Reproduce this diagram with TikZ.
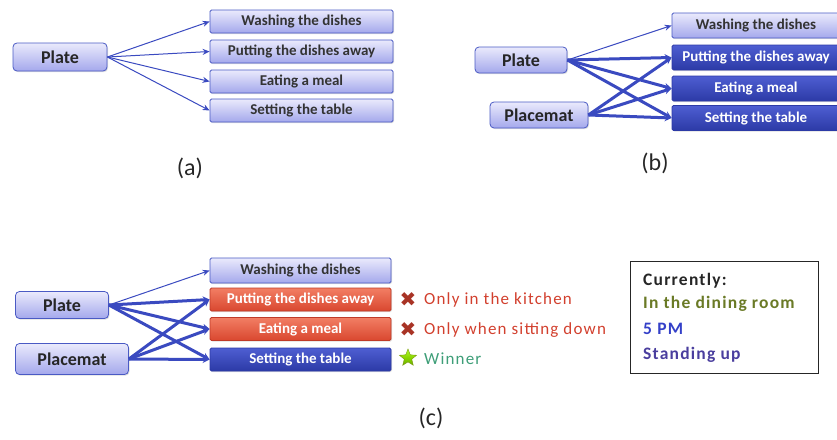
\documentclass[tikz,border=0pt]{standalone}
\usepackage{fontspec}
\setmainfont{Carlito}
\newfontfamily\symfont{DejaVu Sans}
\newfontfamily\widefont[LetterSpace=7]{Carlito}
\usetikzlibrary{arrows.meta,shapes.geometric,shadows}
\definecolor{boxedge}{HTML}{4A5AC4}
\definecolor{lighttop}{HTML}{EAEAFC}
\definecolor{lightbot}{HTML}{A4A8EC}
\definecolor{darktop}{HTML}{4E5ED2}
\definecolor{darkbot}{HTML}{2C3AA6}
\definecolor{redtop}{HTML}{F27E64}
\definecolor{redbot}{HTML}{D9472F}
\definecolor{rededge}{HTML}{BF3A28}
\definecolor{arrowc}{HTML}{3A4AC0}
\definecolor{redtext}{HTML}{D2402E}
\definecolor{wintext}{HTML}{3E9E78}
\definecolor{olivetext}{HTML}{6A7A26}
\definecolor{bluetext}{HTML}{3440C8}
\definecolor{purpletext}{HTML}{4A3E9E}
\begin{document}
\begin{tikzpicture}[x=1pt,y=-1pt,
  base/.style={draw=boxedge, line width=0.8pt, inner sep=0pt,
    drop shadow={shadow xshift=1pt, shadow yshift=-1.2pt, opacity=0.25}},
  objbox/.style={base, rounded corners=4pt, top color=lighttop, bottom color=lightbot,
    text=black!85, font=\bfseries\fontsize{18}{18}\selectfont},
  lighttask/.style={base, rounded corners=1.5pt, top color=lighttop, bottom color=lightbot,
    text=black!80, font=\bfseries\fontsize{15}{15}\selectfont},
  darktask/.style={base, rounded corners=1.5pt, top color=darktop, bottom color=darkbot,
    draw=darkbot, text=white, font=\bfseries\fontsize{15}{15}\selectfont},
  redtask/.style={base, rounded corners=1.5pt, top color=redtop, bottom color=redbot,
    draw=rededge, text=white, font=\bfseries\fontsize{15}{15}\selectfont},
  thin/.style={draw=arrowc, line width=1pt, -{Stealth[length=7pt,width=6pt]}},
  thick/.style={draw=arrowc, line width=3pt, -{Stealth[length=7pt,width=7pt]}},
  caption/.style={font=\fontsize{24}{24}\selectfont, text=black!85},
  note/.style={anchor=west, font=\widefont\fontsize{17}{17}\selectfont, inner sep=0pt},
  legend/.style={anchor=west, font=\widefont\bfseries\fontsize{17.5}{17.5}\selectfont, inner sep=0pt}]
\useasboundingbox (0,0) rectangle (837,439);

% ---------- (a) ----------
\node[objbox, minimum width=94pt, minimum height=28pt] (aplate) at (60,57) {Plate};
\node[lighttask, minimum width=183pt, minimum height=23pt] (aw) at (301.5,21.5) {Washing the dishes};
\node[lighttask, minimum width=183pt, minimum height=23pt] (ap) at (301.5,51.5) {Putting the dishes away};
\node[lighttask, minimum width=183pt, minimum height=23pt] (ae) at (301.5,81.5) {Eating a meal};
\node[lighttask, minimum width=183pt, minimum height=23pt] (as) at (301.5,110.5) {Setting the table};
\draw[thin] (aplate.east) -- (aw.west);
\draw[thin] (aplate.east) -- (ap.west);
\draw[thin] (aplate.east) -- (ae.west);
\draw[thin] (aplate.east) -- (as.west);
\node[caption] (capa) at (190,168) {(a)};

% ---------- (b) ----------
\node[objbox, minimum width=92pt, minimum height=26pt] (bplate) at (521,60) {Plate};
\node[objbox, minimum width=98pt, minimum height=26pt] (bmat) at (539,115) {Placemat};
\node[lighttask, minimum width=168pt, minimum height=25pt] (bw) at (756,25.5) {Washing the dishes};
\node[darktask, minimum width=168pt, minimum height=25pt] (bp) at (756,57.5) {Putting the dishes away};
\node[darktask, minimum width=168pt, minimum height=25pt] (be) at (756,88.5) {Eating a meal};
\node[darktask, minimum width=168pt, minimum height=25pt] (bs) at (756,118) {Setting the table};
\draw[thin] (bplate.east) -- (bw.west);
\draw[thick] (bplate.east) -- (bp.west);
\draw[thick] (bplate.east) -- (be.west);
\draw[thick] (bplate.east) -- (bs.west);
\draw[thick] (bmat.east) -- (bp.west);
\draw[thick] (bmat.east) -- (be.west);
\draw[thick] (bmat.east) -- (bs.west);
\node[caption] (capb) at (655,163) {(b)};

% ---------- (c) ----------
\node[objbox, minimum width=93pt, minimum height=27pt] (cplate) at (62,305) {Plate};
\node[objbox, minimum width=113pt, minimum height=31pt] (cmat) at (72,359) {Placemat};
\node[lighttask, minimum width=181pt, minimum height=25pt] (cw) at (300.5,270.5) {Washing the dishes};
\node[redtask, minimum width=181pt, minimum height=23pt] (cp) at (300.5,299.5) {Putting the dishes away};
\node[redtask, minimum width=181pt, minimum height=23pt] (ce) at (300.5,329) {Eating a meal};
\node[darktask, minimum width=181pt, minimum height=23pt] (cs) at (300.5,359.5) {Setting the table};
\draw[thin] (cplate.east) -- (cw.west);
\draw[thick] (cplate.east) -- (cp.west);
\draw[thick] (cplate.east) -- (ce.west);
\draw[thick] (cplate.east) -- (cs.west);
\draw[thick] (cmat.east) -- (cp.west);
\draw[thick] (cmat.east) -- (ce.west);
\draw[thick] (cmat.east) -- (cs.west);

\node[text=redtext!80!black, font=\symfont\fontsize{20}{20}\selectfont, inner sep=0pt] (x1) at (408,300) {✖};
\node[text=redtext!80!black, font=\symfont\fontsize{20}{20}\selectfont, inner sep=0pt] (x2) at (408,330) {✖};
\node[star, star points=5, star point ratio=2.3, minimum size=18pt, inner sep=0pt,
  draw=olive!70!green, top color=yellow!60!green!80, bottom color=olive!70!green!90] (st) at (408,358) {};
\node[note, text=redtext] (n1) at (424,300) {Only in the kitchen};
\node[note, text=redtext] (n2) at (424,330.5) {Only when sitting down};
\node[note, text=wintext] (n3) at (424,358.5) {Winner};

\node[draw=black!85, line width=1pt, minimum width=188pt, minimum height=112pt, inner sep=0pt] (lg) at (724,317) {};
\node[legend, text=black!85] (l1) at (643,281) {Currently:};
\node[legend, text=olivetext] (l2) at (643,304) {In the dining room};
\node[legend, text=bluetext] (l3) at (643,329) {5 PM};
\node[legend, text=purpletext] (l4) at (643,355) {Standing up};

\node[caption] (capc) at (431,418) {(c)};
\end{tikzpicture}
\end{document}
